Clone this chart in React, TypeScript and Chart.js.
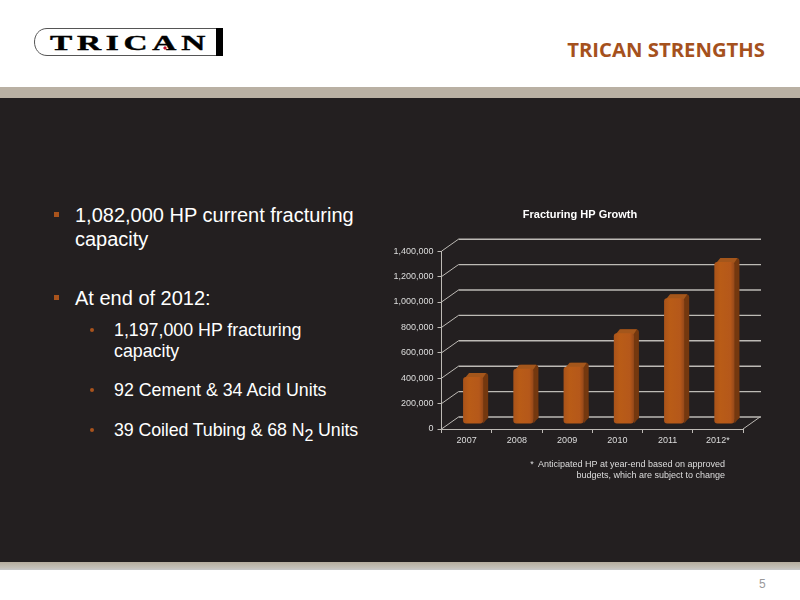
import React, { useEffect, useRef } from "react";
import { Chart, registerables } from "chart.js";

Chart.register(...registerables);

const categories = ["2007", "2008", "2009", "2010", "2011", "2012*"];
const hpValues = [370000, 435000, 450000, 715000, 990000, 1275000];
const yTicks = [0, 200000, 400000, 600000, 800000, 1000000, 1200000, 1400000];
const chartTitle = "Fracturing HP Growth";
const footnoteLines = ["*\u00a0\u2009Anticipated HP at year-end based on approved", "budgets, which are subject to change"];

const WALL_DX = 17;
const WALL_DY = 12;
const BAR_SHIFT_X = 6.5;
const BAR_SHIFT_Y = 5;
const BAR_DX = 5;
const BAR_DY = 4;
const LINE = "#bdbab5";

const wallPlugin = {
  id: "wall",
  beforeDatasetsDraw(chart: any) {
    const { ctx, scales } = chart;
    const y = scales.y;
    const left = chart.chartArea.left;
    const right = chart.chartArea.right;
    ctx.save();
    ctx.strokeStyle = LINE;
    ctx.lineWidth = 1;
    yTicks.forEach((v) => {
      const py = y.getPixelForValue(v);
      ctx.beginPath();
      ctx.moveTo(left, py);
      ctx.lineTo(left + WALL_DX, py - WALL_DY);
      ctx.stroke();
      ctx.lineWidth = 1.4;
      ctx.beginPath();
      ctx.moveTo(left + WALL_DX, py - WALL_DY);
      ctx.lineTo(right + WALL_DX + 1, py - WALL_DY);
      ctx.stroke();
      ctx.lineWidth = 1;
    });
    const py0 = y.getPixelForValue(0);
    ctx.beginPath();
    ctx.moveTo(right, py0);
    ctx.lineTo(right + WALL_DX, py0 - WALL_DY);
    ctx.stroke();
    ctx.restore();

    const bars = chart.getDatasetMeta(0).data;
    ctx.save();
    ctx.translate(BAR_SHIFT_X, -BAR_SHIFT_Y);
    bars.forEach((bar: any) => {
      const w = bar.width;
      const l = bar.x - w / 2;
      const r = bar.x + w / 2;
      const t = bar.y;
      const b = bar.base;
      ctx.fillStyle = "#74380f";
      ctx.beginPath();
      ctx.roundRect(l + BAR_DX, t - BAR_DY, w, b - t, 3);
      ctx.fill();
      ctx.beginPath();
      ctx.moveTo(r - 2, t);
      ctx.lineTo(r + BAR_DX - 2, t - BAR_DY);
      ctx.lineTo(r + BAR_DX, b - BAR_DY - 2);
      ctx.lineTo(r, b);
      ctx.closePath();
      ctx.fill();
      ctx.fillStyle = "#a4561b";
      ctx.beginPath();
      ctx.moveTo(l + 1, t + 2);
      ctx.lineTo(l + BAR_DX + 1, t - BAR_DY);
      ctx.lineTo(r + BAR_DX - 2, t - BAR_DY);
      ctx.lineTo(r - 1, t + 2);
      ctx.closePath();
      ctx.fill();
    });
    ctx.restore();
    ctx.save();
    ctx.translate(BAR_SHIFT_X, -BAR_SHIFT_Y);
  },
  afterDatasetsDraw(chart: any) {
    chart.ctx.restore();
  },
};

function barFill(context: any) {
  const { chart, dataIndex } = context;
  const x = chart.scales?.x;
  if (!x || !chart.chartArea) return "#b5591a";
  const center = x.getPixelForValue(dataIndex);
  const g = chart.ctx.createLinearGradient(center - 10, 0, center + 10, 0);
  g.addColorStop(0, "#a9531a");
  g.addColorStop(0.3, "#b95c17");
  g.addColorStop(0.8, "#b5581a");
  g.addColorStop(1, "#96491a");
  return g;
}

function ChartPanel() {
  const ref = useRef<HTMLCanvasElement>(null);
  useEffect(() => {
    const chart = new Chart(ref.current!, {
      type: "bar",
      data: {
        labels: categories,
        datasets: [
          {
            data: hpValues,
            backgroundColor: barFill,
            borderRadius: 3,
            borderSkipped: false,
            barPercentage: 0.4,
            categoryPercentage: 1,
            clip: false,
          } as any,
        ],
      },
      options: {
        responsive: false,
        animation: false,
        layout: { padding: { left: 0, right: 0, top: 8, bottom: 41 } },
        plugins: {
          legend: { display: false },
          tooltip: { enabled: false },
          title: {
            display: true,
            text: chartTitle,
            color: "#ffffff",
            font: { family: "Liberation Sans", size: 11, weight: "bold" },
            padding: { top: 0, bottom: 30 },
          },
        },
        scales: {
          x: {
            afterFit(s: any) {
              s.height = 20;
            },
            grid: { drawOnChartArea: false, color: LINE, tickLength: 4 },
            border: { color: LINE },
            ticks: {
              color: "#dddddd",
              font: { family: "Liberation Sans", size: 9 },
              padding: 2,
              maxRotation: 0,
            },
          },
          y: {
            min: 0,
            max: 1400000,
            afterFit(s: any) {
              s.width = 61.5;
            },
            afterBuildTicks(s: any) {
              s.ticks = yTicks.map((value) => ({ value }));
            },
            grid: { drawOnChartArea: false, color: LINE, tickLength: 4 },
            border: { color: LINE },
            ticks: {
              color: "#dddddd",
              font: { family: "Liberation Sans", size: 9 },
              padding: 4,
              callback: (v: any) => Number(v).toLocaleString("en-US"),
            },
          },
          y2: {
            position: "right",
            afterFit(s: any) {
              s.width = 37;
            },
            grid: { display: false },
            border: { display: false },
            ticks: { display: false },
          },
        },
      },
      plugins: [wallPlugin],
    } as any);
    return () => chart.destroy();
  }, []);
  return <canvas ref={ref} width={400} height={290} style={{ position: "absolute", left: 380, top: 200 }} />;
}

const sans = '"Liberation Sans", Arial, sans-serif';
const ORANGE = "#a9531c";

function Line(props: { x: number; y: number; size: number; spacing?: number; children: React.ReactNode }) {
  return (
    <div
      style={{
        position: "absolute",
        left: props.x,
        top: props.y - 15,
        lineHeight: "30px",
        fontSize: props.size,
        letterSpacing: props.spacing ?? 0,
        color: "#fff",
        fontFamily: sans,
        whiteSpace: "nowrap",
      }}
    >
      {props.children}
    </div>
  );
}

function Mark(props: { x: number; y: number; size: number; round?: boolean }) {
  return (
    <div
      style={{
        position: "absolute",
        left: props.x,
        top: props.y,
        width: props.size,
        height: props.size,
        background: ORANGE,
        borderRadius: props.round ? "50%" : 0,
      }}
    />
  );
}

export default function App() {
  useEffect(() => {
    document.body.style.margin = "0";
    document.body.style.background = "#fff";
  }, []);
  return (
    <div style={{ position: "absolute", left: 0, top: 0, width: 800, height: 600, overflow: "hidden", background: "#fff" }}>
      <div style={{ position: "absolute", left: 0, top: 87, width: 800, height: 11, background: "#b9b0a3" }} />
      <div style={{ position: "absolute", left: 0, top: 98, width: 800, height: 464, background: "#231f20" }} />
      <div style={{ position: "absolute", left: 0, top: 562, width: 800, height: 8, background: "linear-gradient(#b5ad9e,#c4c0b8 70%,#c9cacb)" }} />

      <svg style={{ position: "absolute", left: 0, top: 0 }} width={260} height={70}>
        <path d="M221 28.5 H47 C39 28.5 34.5 35 34.5 42 C34.5 49 39 55.5 47 55.5 H221" fill="none" stroke="#555" strokeWidth={1} />
        <rect x={216} y={28} width={7} height={28} fill="#000" />
        <text x={50} y={50} fontFamily="Liberation Serif" fontWeight="bold" fontSize={21} letterSpacing={3} textLength={160} lengthAdjust="spacingAndGlyphs" stroke="#000" strokeWidth={0.4} fill="#000">
          TRICAN
        </text>
        <path d="M165 46 L167 48 L165 50 L163 48 Z" fill="#c8102e" />
      </svg>

      <div style={{ position: "absolute", right: 35, top: 35, fontFamily: "Open Sans", fontWeight: 700, fontSize: 20.3, lineHeight: "28px", color: "#a5511d" }}>
        TRICAN STRENGTHS
      </div>

      <Mark x={54} y={212} size={5} />
      <Line x={75} y={215} size={20}>1,082,000 HP current fracturing</Line>
      <Line x={75} y={239} size={20}>capacity</Line>
      <Mark x={54} y={295} size={5} />
      <Line x={75} y={298} size={20}>At end of 2012:</Line>
      <Mark x={90} y={328} size={4} round />
      <Line x={114} y={330} size={17.8}>1,197,000 HP fracturing</Line>
      <Line x={114} y={351} size={17.8}>capacity</Line>
      <Mark x={90} y={388} size={4} round />
      <Line x={114} y={390} size={17.8}>92 Cement &amp; 34 Acid Units</Line>
      <Mark x={90} y={428} size={4} round />
      <Line x={114} y={430} size={17.8} spacing={-0.1}>
        39 Coiled Tubing &amp; 68 N
        <span style={{ position: "relative", top: 5, fontSize: 16 }}>2</span> Units
      </Line>

      <ChartPanel />

      <div style={{ position: "absolute", left: 480, width: 245, top: 459, textAlign: "right", fontFamily: sans, fontSize: 9, lineHeight: "10.5px", color: "#dddddd", whiteSpace: "nowrap" }}>
        {footnoteLines.map((l) => (
          <div key={l}>{l}</div>
        ))}
      </div>

      <div style={{ position: "absolute", left: 759, top: 577, fontFamily: sans, fontSize: 12, lineHeight: "14px", color: "#9a9a9a" }}>5</div>
    </div>
  );
}
